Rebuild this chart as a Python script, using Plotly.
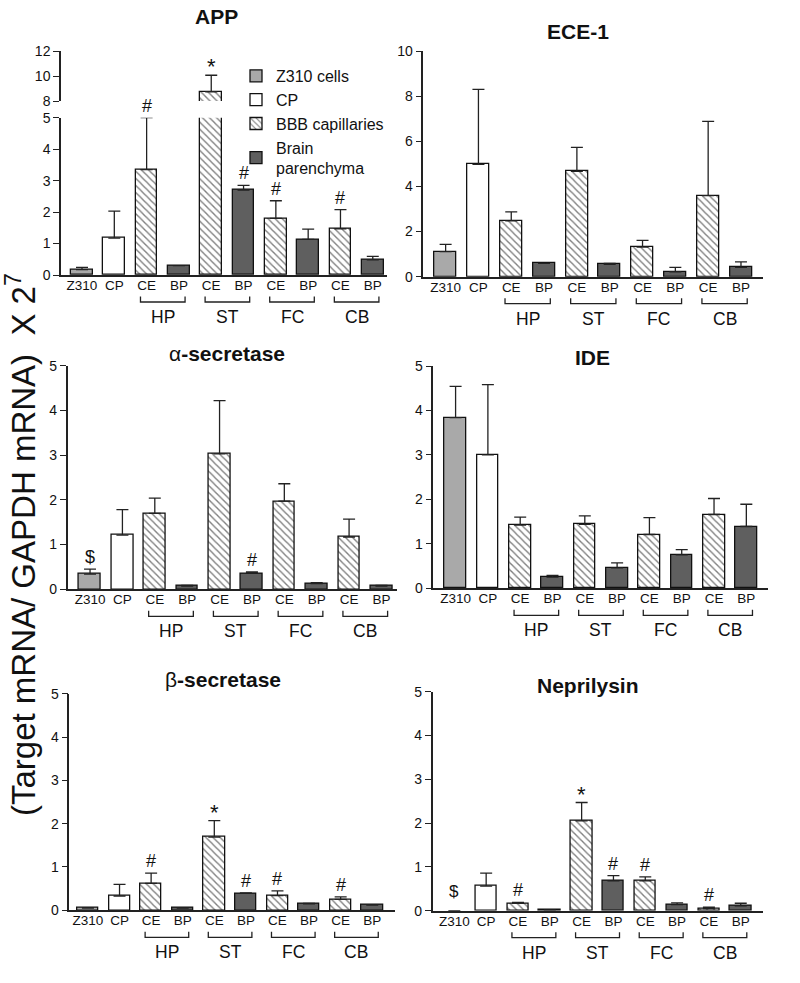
import plotly.graph_objects as go

W, H = 800, 983

tick_labels = ["Z310", "CP", "CE", "BP", "CE", "BP", "CE", "BP", "CE", "BP"]
regions = ["HP", "ST", "FC", "CB"]
series_names = ["Z310 cells", "CP", "BBB capillaries", "Brain<br>parenchyma"]

# ---- data (mean and upper error) ----
app_mean = [0.17, 1.17, 3.35, 0.30, 8.74, 2.70, 1.80, 1.13, 1.47, 0.48]
app_err = [0.07, 0.86, 1.65, 0.00, 1.32, 0.15, 0.56, 0.33, 0.61, 0.11]
app_marks = [(2, "#"), (5, "#"), (6, "#"), (8, "#")]
app_upper_marks = [(4, "*")]

ece_mean = [1.11, 4.98, 2.47, 0.59, 4.67, 0.55, 1.31, 0.22, 3.59, 0.41]
ece_err = [0.32, 3.32, 0.40, 0.00, 1.06, 0.04, 0.30, 0.19, 3.29, 0.25]
ece_marks = []

alpha_mean = [0.34, 1.21, 1.70, 0.07, 3.03, 0.36, 1.97, 0.13, 1.17, 0.07]
alpha_err = [0.11, 0.57, 0.34, 0.02, 1.19, 0.03, 0.39, 0.02, 0.40, 0.02]
alpha_marks = [(0, "$"), (5, "#")]

ide_mean = [3.84, 3.00, 1.42, 0.25, 1.44, 0.46, 1.21, 0.75, 1.66, 1.39]
ide_err = [0.70, 1.58, 0.18, 0.04, 0.19, 0.11, 0.38, 0.12, 0.36, 0.50]
ide_marks = []

beta_mean = [0.05, 0.33, 0.62, 0.05, 1.69, 0.39, 0.34, 0.15, 0.25, 0.12]
beta_err = [0.01, 0.27, 0.24, 0.01, 0.38, 0.01, 0.11, 0.01, 0.06, 0.01]
beta_marks = [(2, "#"), (4, "*"), (5, "#"), (6, "#"), (8, "#")]

nep_mean = [0.00, 0.56, 0.17, 0.02, 2.05, 0.68, 0.68, 0.14, 0.05, 0.11]
nep_err = [0.00, 0.30, 0.02, 0.00, 0.42, 0.12, 0.09, 0.04, 0.03, 0.06]
nep_marks = [(2, "#"), (4, "*"), (5, "#"), (6, "#"), (8, "#")]
nep_dollar = (0, "$", 0.43)

FONT = "Liberation Sans, Arial, sans-serif"
AX = "#222222"
Z_COL = "#a9a9a9"
BP_COL = "#5f5f5f"
HATCH = dict(shape="\\", fgcolor="#000", bgcolor="white", size=5, solidity=0.28)

fig = go.Figure()


def px_x(p):
    return p / W


def px_y(p):
    return 1 - p / H


def add_panel(idx, mean, err, xpx, ypx, xrange, yrange, dtick, showlegend=False):
    """xpx: (left,right) px; ypx: (bottom,top) px"""
    xa = "x" if idx == 1 else f"x{idx}"
    ya = "y" if idx == 1 else f"y{idx}"
    groups = [
        (series_names[0], [0], dict(color=Z_COL)),
        (series_names[1], [1], dict(color="white")),
        (series_names[2], [2, 4, 6, 8], dict(color="white", pattern=HATCH)),
        (series_names[3], [3, 5, 7, 9], dict(color=BP_COL)),
    ]
    for name, ids, mk in groups:
        mk = dict(mk)
        mk["line"] = dict(color="#111", width=[1.3 if mean[i] > 0 else 0 for i in ids])
        fig.add_trace(go.Bar(
            x=ids, y=[mean[i] for i in ids], name=name, xaxis=xa, yaxis=ya,
            width=0.67, marker=mk, legendgroup=name, showlegend=showlegend,
            error_y=dict(type="data", symmetric=False,
                         array=[err[i] if mean[i] > 0 else None for i in ids],
                         arrayminus=[0] * len(ids), color="#222", thickness=1.3, width=6,
                         visible=True),
        ))
    lk = "xaxis" if idx == 1 else f"xaxis{idx}"
    lky = "yaxis" if idx == 1 else f"yaxis{idx}"
    fig.layout[lk] = dict(domain=[px_x(xpx[0]), px_x(xpx[1])], range=xrange, anchor=ya,
                          tickmode="array", tickvals=list(range(10)), ticktext=tick_labels,
                          showline=True, linecolor=AX, linewidth=1.5, ticks="",
                          ticklabelstandoff=-3, automargin=False,
                          tickfont=dict(size=13.5, color="#111", family=FONT),
                          showgrid=False, zeroline=False, fixedrange=True)
    fig.layout[lky] = dict(domain=[px_y(ypx[0]), px_y(ypx[1])], range=yrange, anchor=xa,
                           dtick=dtick, tick0=0, showline=True, linecolor=AX, linewidth=1.5,
                           ticks="outside", ticklen=6, tickwidth=1.3, tickcolor=AX,
                           automargin=False,
                           tickfont=dict(size=14, color="#111", family=FONT),
                           showgrid=False, zeroline=False, fixedrange=True)
    # brackets + region labels
    base = ypx[0]
    for k, reg in enumerate(regions):
        a, b = 2 + 2 * k, 3 + 2 * k
        x0, x1 = a - 0.19, b + 0.19
        yb = px_y(base + 27)
        yt = px_y(base + 21.5)
        fig.add_shape(type="path", xref=xa, yref="paper",
                      path=f"M {x0},{yt} L {x0},{yb} L {x1},{yb} L {x1},{yt}",
                      line=dict(color="#222", width=1.3))
        fig.add_annotation(x=(a + b) / 2, y=px_y(base + 42), xref=xa, yref="paper",
                           text=reg, showarrow=False, yanchor="middle",
                           font=dict(size=17.5, color="#111", family=FONT))
    return xa, ya


def add_marks(xa, ya, mean, err, marks):
    for i, s in marks:
        top = mean[i] + err[i]
        big = s == "*"
        fig.add_annotation(x=i, y=top, xref=xa, yref=ya, text=s, showarrow=False,
                           yanchor="bottom", yshift=-6 if big else 0,
                           font=dict(size=22 if big else 18, color="#111", family=FONT))


# APP lower (0-5) and upper (8-12)
xa, ya = add_panel(1, app_mean, app_err, (61, 387), (275, 117.7), [-0.65, 9.44], [0, 5], 1, showlegend=True)
add_marks(xa, ya, app_mean, app_err, app_marks)
# upper broken segment
up_ids = [4]
fig.add_trace(go.Bar(
    x=up_ids, y=[app_mean[i] for i in up_ids], xaxis="x7", yaxis="y7", width=0.67,
    marker=dict(color="white", pattern=HATCH, line=dict(color="#111", width=1.3)),
    showlegend=False, legendgroup=series_names[2], name=series_names[2],
    error_y=dict(type="data", symmetric=False, array=[app_err[i] for i in up_ids], arrayminus=[0],
                 color="#222", thickness=1.3, width=6),
))
fig.layout["xaxis7"] = dict(domain=[px_x(61), px_x(387)], range=[-0.65, 9.44], anchor="y7",
                            visible=False, fixedrange=True, automargin=False)
fig.layout["yaxis7"] = dict(domain=[px_y(101), px_y(51)], range=[8, 12], anchor="x7",
                            tickvals=[8, 10, 12], showline=True, linecolor=AX, linewidth=1.5,
                            ticks="outside", ticklen=6, tickwidth=1.3, tickcolor=AX,
                            automargin=False,
                            tickfont=dict(size=14, color="#111", family=FONT),
                            showgrid=False, zeroline=False, fixedrange=True)
add_marks("x7", "y7", app_mean, app_err, app_upper_marks)

xa, ya = add_panel(2, ece_mean, ece_err, (423.3, 763.3), (276.7, 51), [-0.68, 9.68], [0, 10], 2)
add_marks(xa, ya, ece_mean, ece_err, ece_marks)

xa, ya = add_panel(3, alpha_mean, alpha_err, (67.7, 397), (589.3, 365.7), [-0.69, 9.48], [0, 5], 1)
add_marks(xa, ya, alpha_mean, alpha_err, alpha_marks)

xa, ya = add_panel(4, ide_mean, ide_err, (433.3, 768.3), (588.3, 366), [-0.69, 9.68], [0, 5], 1)
add_marks(xa, ya, ide_mean, ide_err, ide_marks)

xa, ya = add_panel(5, beta_mean, beta_err, (69.3, 395), (910.3, 693.7), [-0.59, 9.72], [0, 5], 1)
add_marks(xa, ya, beta_mean, beta_err, beta_marks)

xa, ya = add_panel(6, nep_mean, nep_err, (432.7, 762.7), (910.7, 691.7), [-0.68, 9.69], [0, 5], 1)
add_marks(xa, ya, nep_mean, nep_err, nep_marks)
fig.add_annotation(x=nep_dollar[0], y=nep_dollar[2], xref=xa, yref=ya, text=nep_dollar[1],
                   showarrow=False, font=dict(size=17, color="#111", family=FONT))

# titles
titles = [
    ("<b>APP</b>", 216, 16),
    ("<b>ECE-1</b>", 578, 32),
    ("α<b>-secretase</b>", 227, 353),
    ("<b>IDE</b>", 592, 358),
    ("β<b>-secretase</b>", 223, 679),
    ("<b>Neprilysin</b>", 588, 685),
]
for t, x, y in titles:
    fig.add_annotation(x=px_x(x), y=px_y(y), xref="paper", yref="paper", text=t,
                       showarrow=False, xanchor="center", yanchor="middle",
                       font=dict(size=21, color="#111", family=FONT))

# shared y-axis label
fig.add_annotation(x=px_x(21), y=px_y(545), xref="paper", yref="paper",
                   text="(Target mRNA/ GAPDH mRNA)  X 2<sup>7</sup>", textangle=-90,
                   showarrow=False, xanchor="center", yanchor="middle",
                   font=dict(size=33, color="#111", family=FONT))

fig.update_layout(
    width=W, height=H, autosize=False,
    margin=dict(l=0, r=0, t=0, b=0, autoexpand=False),
    paper_bgcolor="white", plot_bgcolor="white",
    barmode="overlay", bargap=0,
    font=dict(family=FONT, color="#111"),
    legend=dict(x=px_x(236), y=px_y(59), xanchor="left", yanchor="top",
                bgcolor="rgba(0,0,0,0)", font=dict(size=16, color="#111", family=FONT),
                itemwidth=30, tracegroupgap=0),
)

fig.write_html("out.html", config={"displayModeBar": False},
               post_script="document.body.style.margin='0px';")
